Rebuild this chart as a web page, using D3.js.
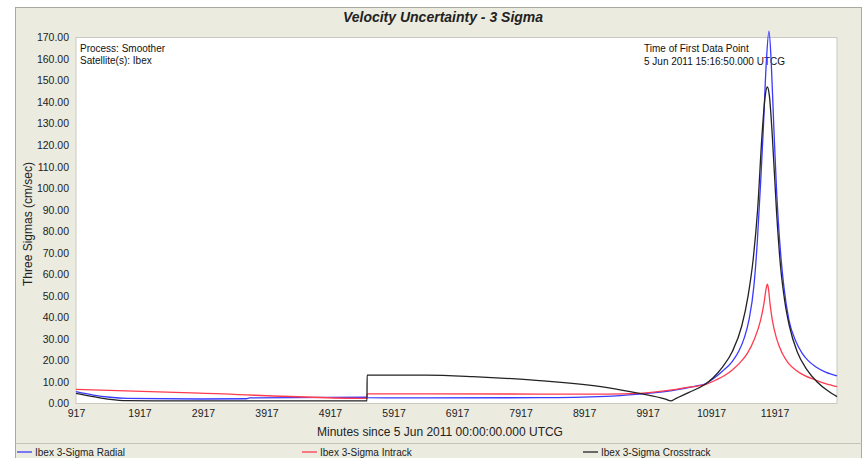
<!DOCTYPE html>
<html>
<head>
<meta charset="utf-8">
<script src="https://cdn.jsdelivr.net/npm/d3@7"></script>
<style>
  html, body { margin: 0; padding: 0; background: #ffffff; }
  svg { display: block; font-family: "Liberation Sans", Arial, sans-serif; }
</style>
</head>
<body>
<svg id="chart" width="862" height="458"></svg>
<script>
// ---- data (minutes since 5 Jun 2011 00:00 UTCG, three-sigma cm/sec) ----
const chartTitle = "Velocity Uncertainty - 3 Sigma";
const xTicks = [917, 1917, 2917, 3917, 4917, 5917, 6917, 7917, 8917, 9917, 10917, 11917];
const yTicks = [0, 10, 20, 30, 40, 50, 60, 70, 80, 90, 100, 110, 120, 130, 140, 150, 160, 170];
const seriesNames = ["Ibex 3-Sigma Radial", "Ibex 3-Sigma Intrack", "Ibex 3-Sigma Crosstrack"];

const radialData = [
  [917, 5.5], [1189, 3.9], [1452, 2.9], [1714, 2.4], [2866, 2.1], [3600, 2.2], [3650, 2.6],
  [5499, 3.0], [5501, 2.7], [6431, 2.6], [8212, 2.7], [9261, 3.3], [9784, 4.4], [10303, 6.0],
  [10728, 8.4], [10806, 8.9], [10950, 11.5], [11095, 15.0], [11250, 19.5], [11357, 24.5],
  [11440, 30.5], [11514, 38.8], [11593, 55], [11645, 75], [11700, 104], [11739, 127],
  [11786, 158], [11829, 173], [11865, 158], [11907, 127], [11950, 98], [11975, 85],
  [12020, 67], [12064, 54.2], [12143, 38.8], [12250, 29], [12352, 23.3], [12450, 19.8],
  [12563, 17.1], [12720, 14.6], [12900, 12.8]
];
const intrackData = [
  [917, 6.6], [2866, 4.8], [5499, 2.4], [5501, 4.5], [6431, 4.5], [8212, 4.4], [9261, 4.4],
  [9784, 4.7], [10303, 6.3], [10570, 7.6], [10806, 8.6], [10991, 10.9], [11130, 13.0],
  [11252, 15.6], [11380, 19.2], [11488, 23.3], [11600, 30], [11698, 38.8], [11750, 46.5],
  [11785, 53.5], [11802, 55.4], [11820, 53.5], [11845, 46.5], [11881, 38.8], [11950, 30],
  [12038, 23.3], [12140, 18.5], [12248, 15.6], [12400, 12.8], [12563, 10.9], [12720, 9.2],
  [12900, 7.8]
];
const crosstrackData = [
  [917, 4.7], [1189, 3.2], [1452, 1.9], [1714, 1.3], [2866, 1.2], [5499, 1.2], [5501, 13.2],
  [6431, 13.2], [7164, 12.5], [8212, 10.6], [9261, 7.5], [9784, 4.7], [10200, 2.0],
  [10283, 1.2], [10360, 2.3], [10570, 5.2], [10806, 8.6], [10950, 12.0], [11100, 17.0],
  [11250, 24.0], [11400, 36.0], [11500, 50.0], [11580, 67.0], [11650, 90.0], [11720, 125],
  [11770, 143], [11802, 147], [11835, 143], [11880, 125], [11950, 88], [12010, 64],
  [12080, 47], [12150, 36], [12273, 24], [12420, 16], [12588, 10], [12750, 6], [12900, 3.2]
];
const seriesColors = ["#3a3aff", "#ff3b4e", "#222222"];

// ---- layout ----
const svg = d3.select("#chart");
const plot = { left: 76, right: 837, top: 37.5, bottom: 403.5 };
const x = d3.scaleLinear().domain([917, 12900]).range([plot.left, plot.right]);
const y = d3.scaleLinear().domain([0, 170]).range([plot.bottom, plot.top]);

// panel background
svg.append("rect").attr("x", 15.5).attr("y", 7.5).attr("width", 846).attr("height", 451)
  .attr("fill", "#ecebe0").attr("stroke", "#a9a9a2").attr("stroke-width", 1);
svg.append("line").attr("x1", 15.5).attr("x2", 862).attr("y1", 443.5).attr("y2", 443.5)
  .attr("stroke", "#c4c3b8");

// plot area
svg.append("rect").attr("x", plot.left).attr("y", plot.top)
  .attr("width", plot.right - plot.left).attr("height", plot.bottom - plot.top)
  .attr("fill", "#ffffff").attr("stroke", "#c9c9c2").attr("stroke-width", 1);

// title
svg.append("text").attr("x", 443).attr("y", 22).attr("text-anchor", "middle")
  .attr("font-size", 14).attr("font-weight", "bold").attr("font-style", "italic")
  .attr("fill", "#222").text(chartTitle);

// axes
const yAxis = d3.axisLeft(y).tickValues(yTicks).tickFormat(d3.format(".2f")).tickSize(0).tickPadding(7);
const gy = svg.append("g").attr("transform", `translate(${plot.left},0)`).call(yAxis);
gy.select(".domain").remove();
gy.selectAll("text").attr("font-size", 10.5).attr("fill", "#222")
  .attr("font-family", "Liberation Sans, Arial, sans-serif");

const xAxis = d3.axisBottom(x).tickValues(xTicks).tickFormat(d3.format("d")).tickSize(0).tickPadding(6);
const gx = svg.append("g").attr("transform", `translate(0,${plot.bottom})`).call(xAxis);
gx.select(".domain").remove();
gx.selectAll("text").attr("font-size", 10.5).attr("fill", "#222")
  .attr("font-family", "Liberation Sans, Arial, sans-serif");

// axis titles
svg.append("text").attr("x", 440).attr("y", 436).attr("text-anchor", "middle")
  .attr("font-size", 12).attr("fill", "#222")
  .text("Minutes since 5 Jun 2011 00:00:00.000 UTCG");
svg.append("text").attr("transform", "translate(32,224) rotate(-90)").attr("text-anchor", "middle")
  .attr("font-size", 12).attr("fill", "#222").text("Three Sigmas (cm/sec)");

// annotations
const ann = svg.append("g").attr("font-size", 10).attr("fill", "#111");
ann.append("text").attr("x", 80).attr("y", 51.5).text("Process: Smoother");
ann.append("text").attr("x", 80).attr("y", 64).text("Satellite(s): Ibex");
ann.append("text").attr("x", 644).attr("y", 51.5).text("Time of First Data Point");
ann.append("text").attr("x", 644).attr("y", 64.5).text("5 Jun 2011 15:16:50.000 UTCG");

// lines
const line = d3.line().x(d => x(d[0])).y(d => y(d[1])).curve(d3.curveMonotoneX);
[radialData, intrackData, crosstrackData].forEach((data, i) => {
  svg.append("path").datum(data).attr("d", line).attr("fill", "none")
    .attr("stroke", seriesColors[i]).attr("stroke-width", 1.3);
});

// legend
const legendX = [17, 302, 583];
seriesNames.forEach((name, i) => {
  const g = svg.append("g").attr("transform", `translate(${legendX[i]},452)`);
  g.append("line").attr("x1", 0).attr("x2", 15).attr("y1", 0).attr("y2", 0)
    .attr("stroke", seriesColors[i]).attr("stroke-width", 1.3);
  g.append("text").attr("x", 18).attr("y", 3.5).attr("font-size", 10).attr("fill", "#222").text(name);
});
</script>
</body>
</html>
